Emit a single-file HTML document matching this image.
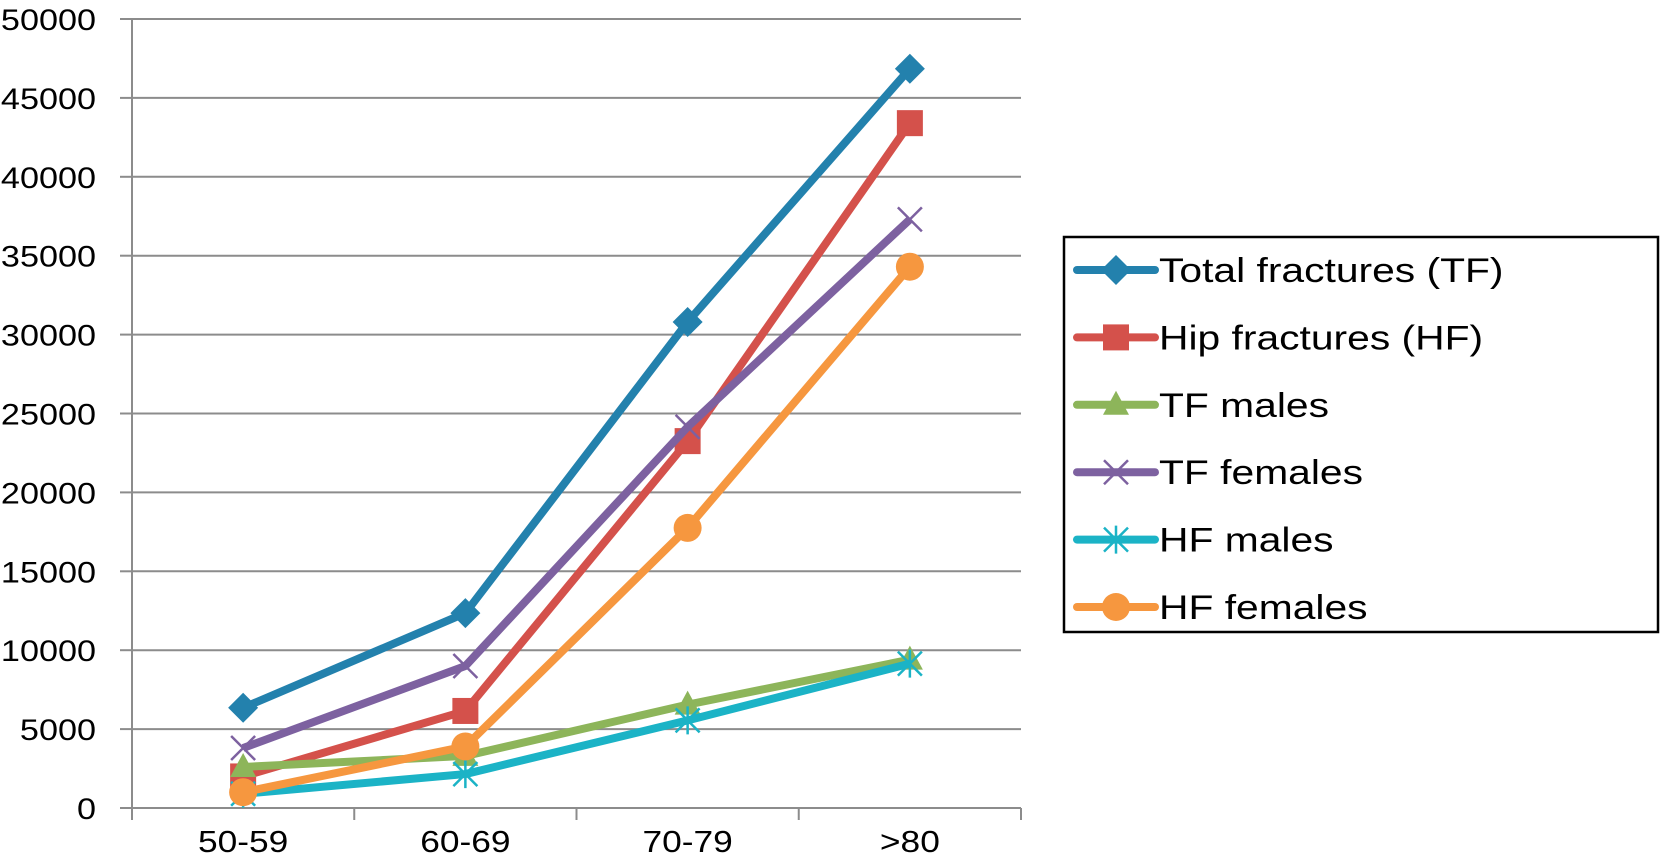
<!DOCTYPE html>
<html><head><meta charset="utf-8"><style>
body{margin:0;background:#fff}
svg{display:block;font-family:"Liberation Sans",Arial,sans-serif}
</style></head><body>
<svg id="chart" width="1660" height="860" viewBox="0 0 1660 860" xmlns="http://www.w3.org/2000/svg">
<g id="grid"></g>
<g id="axes"></g>
<g id="series"></g>
<g id="legend"></g>
</svg>
<script>
const categories = ["50-59","60-69","70-79",">80"];
const yTicks = [0,5000,10000,15000,20000,25000,30000,35000,40000,45000,50000];
const seriesNames = ["Total fractures (TF)","Hip fractures (HF)","TF males","TF females","HF males","HF females"];
const totalFractures = [6350, 12350, 30800, 46850];
const hipFractures = [2000, 6150, 23250, 43400];
const tfMales = [2600, 3300, 6550, 9400];
const tfFemales = [3800, 9000, 24150, 37300];
const hfMales = [900, 2150, 5550, 9150];
const hfFemales = [1000, 3900, 17750, 34300];

const NS="http://www.w3.org/2000/svg";
const L=132,R=1021,T=19,B=808,YMAX=50000;
const band=(R-L)/categories.length;
const x=i=>L+band*(i+0.5);
const y=v=>B-(v/YMAX)*(B-T);
function mk(tag,attrs,parent){const e=document.createElementNS(NS,tag);for(const k in attrs)e.setAttribute(k,attrs[k]);parent.appendChild(e);return e;}
const grid=document.getElementById('grid'),axes=document.getElementById('axes'),sg=document.getElementById('series'),lg=document.getElementById('legend');

yTicks.forEach(v=>{
  const ln=mk('line',{x1:L,x2:R,y1:y(v),y2:y(v),stroke:'#8c8c8c','stroke-width':2},grid);
  
  
  const tk=mk('line',{x1:L-12,x2:L,y1:y(v),y2:y(v),stroke:'#8c8c8c','stroke-width':2},axes);
  
  
  const t=mk('text',{x:0,y:0,transform:`translate(96,${y(v)+11}) scale(1.14,1)`,'text-anchor':'end','font-size':30,fill:'#000'},axes);
  t.textContent=v;
  
  
});
const ya=mk('line',{x1:L,x2:L,y1:T,y2:B+12,stroke:'#8c8c8c','stroke-width':2},axes);


for(let i=1;i<=categories.length;i++){
  const tk=mk('line',{x1:L+band*i,x2:L+band*i,y1:B,y2:B+12,stroke:'#8c8c8c','stroke-width':2},axes);
  
  
}
categories.forEach((c,i)=>{
  const t=mk('text',{x:0,y:0,transform:`translate(${x(i)},${B+44}) scale(1.14,1)`,'text-anchor':'middle','font-size':31,fill:'#000'},axes);
  t.textContent=c;
  
  
});

const data=[totalFractures,hipFractures,tfMales,tfFemales,hfMales,hfFemales];
const colors=['#2381ad','#d4514b','#8db55a','#7d61a0','#1bb3c6','#f6973f'];
const markers=['diamond','square','triangle','x','star','circle'];
function marker(type,cx,cy,col,parent,s){
  s=s||1;
  let e;
  if(type==='diamond')e=mk('polygon',{points:`${cx},${cy-15*s} ${cx+15*s},${cy} ${cx},${cy+15*s} ${cx-15*s},${cy}`,fill:col},parent);
  else if(type==='square')e=mk('rect',{x:cx-13*s,y:cy-13*s,width:26*s,height:26*s,fill:col},parent);
  else if(type==='triangle')e=mk('polygon',{points:`${cx},${cy-14*s} ${cx+13*s},${cy+10*s} ${cx-13*s},${cy+10*s}`,fill:col},parent);
  else if(type==='circle')e=mk('circle',{cx:cx,cy:cy,r:14*s,fill:col},parent);
  else if(type==='x'){e=mk('path',{d:`M${cx-12*s},${cy-12*s}L${cx+12*s},${cy+12*s}M${cx+12*s},${cy-12*s}L${cx-12*s},${cy+12*s}`,stroke:col,'stroke-width':2.5,fill:'none'},parent);}
  else {e=mk('path',{d:`M${cx-12*s},${cy-12*s}L${cx+12*s},${cy+12*s}M${cx+12*s},${cy-12*s}L${cx-12*s},${cy+12*s}M${cx},${cy-14*s}L${cx},${cy+14*s}`,stroke:col,'stroke-width':2.5,fill:'none'},parent);}
  
  
}
data.forEach((arr,si)=>{
  const g=mk('g',{},sg);
  
  
  const p=mk('polyline',{points:arr.map((v,i)=>x(i)+','+y(v)).join(' '),fill:'none',stroke:colors[si],'stroke-width':8,'stroke-linejoin':'round'},g);
  
  
  arr.forEach((v,i)=>marker(markers[si],x(i),y(v),colors[si],g));
});

const box=mk('rect',{x:1064,y:237,width:594,height:395,fill:'#fff',stroke:'#000','stroke-width':2.5},lg);


seriesNames.forEach((n,i)=>{
  const cy=270+i*67.4;
  const g=mk('g',{},lg);
  
  
  const ln=mk('line',{x1:1077,x2:1155,y1:cy,y2:cy,stroke:colors[i],'stroke-width':8,'stroke-linecap':'round'},g);
  
  
  marker(markers[i],1116,cy,colors[i],g);
  const t=mk('text',{x:0,y:0,transform:`translate(1159,${cy+12}) scale(1.2,1)`,'font-size':34,fill:'#000'},g);
  t.textContent=n;
  
  
});
</script>
</body></html>
